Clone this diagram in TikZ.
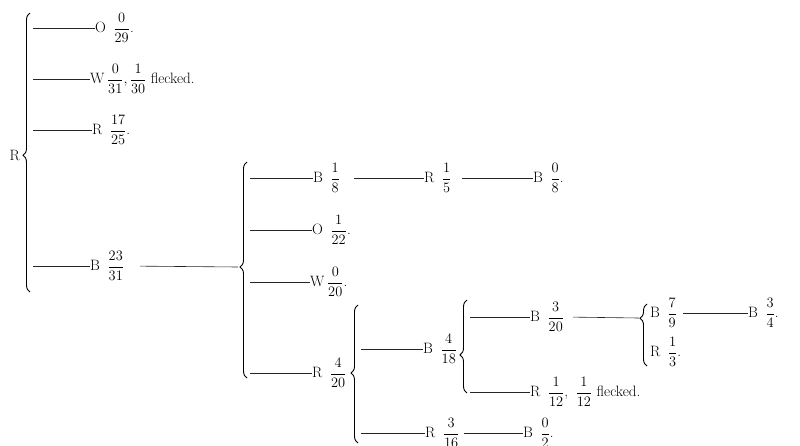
\documentclass[tikz,border=0pt]{standalone}
\usepackage{amsmath}
\usetikzlibrary{decorations.pathreplacing}
\begin{document}
\begin{tikzpicture}[x=1pt,y=-1pt,
  lbl/.style={inner sep=0pt,anchor=west,font=\fontsize{15}{18}\selectfont},
  conn/.style={line width=0.6pt,black!85},
  cont/.style={conn,shorten <=9pt},
  brc/.style={decorate,line width=0.9pt,decoration={brace,amplitude=7pt,aspect=#1}}]
\useasboundingbox (0,0) rectangle (800,445);
% root
\node[lbl,anchor=east] (root) at (20,155) {R};
% brace 1
\coordinate (b1b) at (30,292); \coordinate (b1t) at (30,13);
\draw[brc=0.49] (b1b) -- (b1t);
\coordinate (s1) at (33,28); \coordinate (s2) at (33,79);
\coordinate (s3) at (33,130); \coordinate (s4) at (33,266);
\node[lbl] (n1) at (95,28) {O\enspace$\dfrac{0}{29}$.};
\node[lbl] (n2) at (90,79) {W\,$\dfrac{0}{31},\dfrac{1}{30}$ flecked.};
\node[lbl] (n3) at (92,130) {R\enspace$\dfrac{17}{25}$.};
\node[lbl] (n4) at (90,266) {B\enspace$\dfrac{23}{31}$};
\draw[conn] (s1) -- (n1.west);
\draw[conn] (s2) -- (n2.west);
\draw[conn] (s3) -- (n3.west);
\draw[conn] (s4) -- (n4.west);
% brace 2
\coordinate (c2) at (238,267);
\draw[cont,shorten <=16pt] (n4.east) -- (c2);
\coordinate (b2b) at (247,378); \coordinate (b2t) at (247,162);
\draw[brc=0.514] (b2b) -- (b2t);
\coordinate (s5) at (250,178); \coordinate (s8) at (250,230);
\coordinate (s9) at (250,282); \coordinate (s10) at (250,373);
\node[lbl] (n5) at (313,178) {B\enspace$\dfrac{1}{8}$};
\node[lbl] (n6) at (424,178) {R\enspace$\dfrac{1}{5}$};
\node[lbl] (n7) at (533,178) {B\enspace$\dfrac{0}{8}$.};
\node[lbl] (n8) at (312,230) {O\enspace$\dfrac{1}{22}$.};
\node[lbl] (n9) at (310,282) {W\,$\dfrac{0}{20}$.};
\node[lbl] (n10) at (312,373) {R\enspace$\dfrac{4}{20}$};
\draw[conn] (s5) -- (n5.west);
\draw[cont,shorten <=14pt] (n5.east) -- (n6.west);
\draw[cont,shorten <=10pt] (n6.east) -- (n7.west);
\draw[conn] (s8) -- (n8.west);
\draw[conn] (s9) -- (n9.west);
\draw[conn] (s10) -- (n10.west);
% brace 3
\coordinate (b3b) at (358,443); \coordinate (b3t) at (358,305);
\draw[brc=0.507] (b3b) -- (b3t);
\coordinate (s11) at (361,349); \coordinate (s12) at (361,433);
\node[lbl] (n11) at (423,349) {B\enspace$\dfrac{4}{18}$};
\node[lbl] (n12) at (425,433) {R\enspace$\dfrac{3}{16}$};
\node[lbl] (n13) at (523,433) {B\enspace$\dfrac{0}{2}$.};
\draw[conn] (s11) -- (n11.west);
\draw[conn] (s12) -- (n12.west);
\draw[cont,shorten <=4pt] (n12.east) -- (n13.west);
% brace 4
\coordinate (b4b) at (467,393); \coordinate (b4t) at (467,300);
\draw[brc=0.41] (b4b) -- (b4t);
\coordinate (s14) at (470,317); \coordinate (s15) at (470,392);
\node[lbl] (n14) at (530,317) {B\enspace$\dfrac{3}{20}$};
\node[lbl] (n15) at (530,392) {R\enspace$\dfrac{1}{12}$,\enspace$\dfrac{1}{12}$ flecked.};
\draw[conn] (s14) -- (n14.west);
\draw[conn] (s15) -- (n15.west);
% brace 5
\coordinate (c5) at (639,318);
\draw[cont] (n14.east) -- (c5);
\coordinate (b5b) at (647,366); \coordinate (b5t) at (647,304);
\draw[brc=0.77] (b5b) -- (b5t);
\node[lbl] (n16) at (650,313) {B\enspace$\dfrac{7}{9}$};
\node[lbl] (n17) at (748,313) {B\enspace$\dfrac{3}{4}$.};
\node[lbl] (n18) at (650,352) {R\enspace$\dfrac{1}{3}$.};
\draw[cont,shorten <=6pt] (n16.east) -- (n17.west);
\end{tikzpicture}
\end{document}
